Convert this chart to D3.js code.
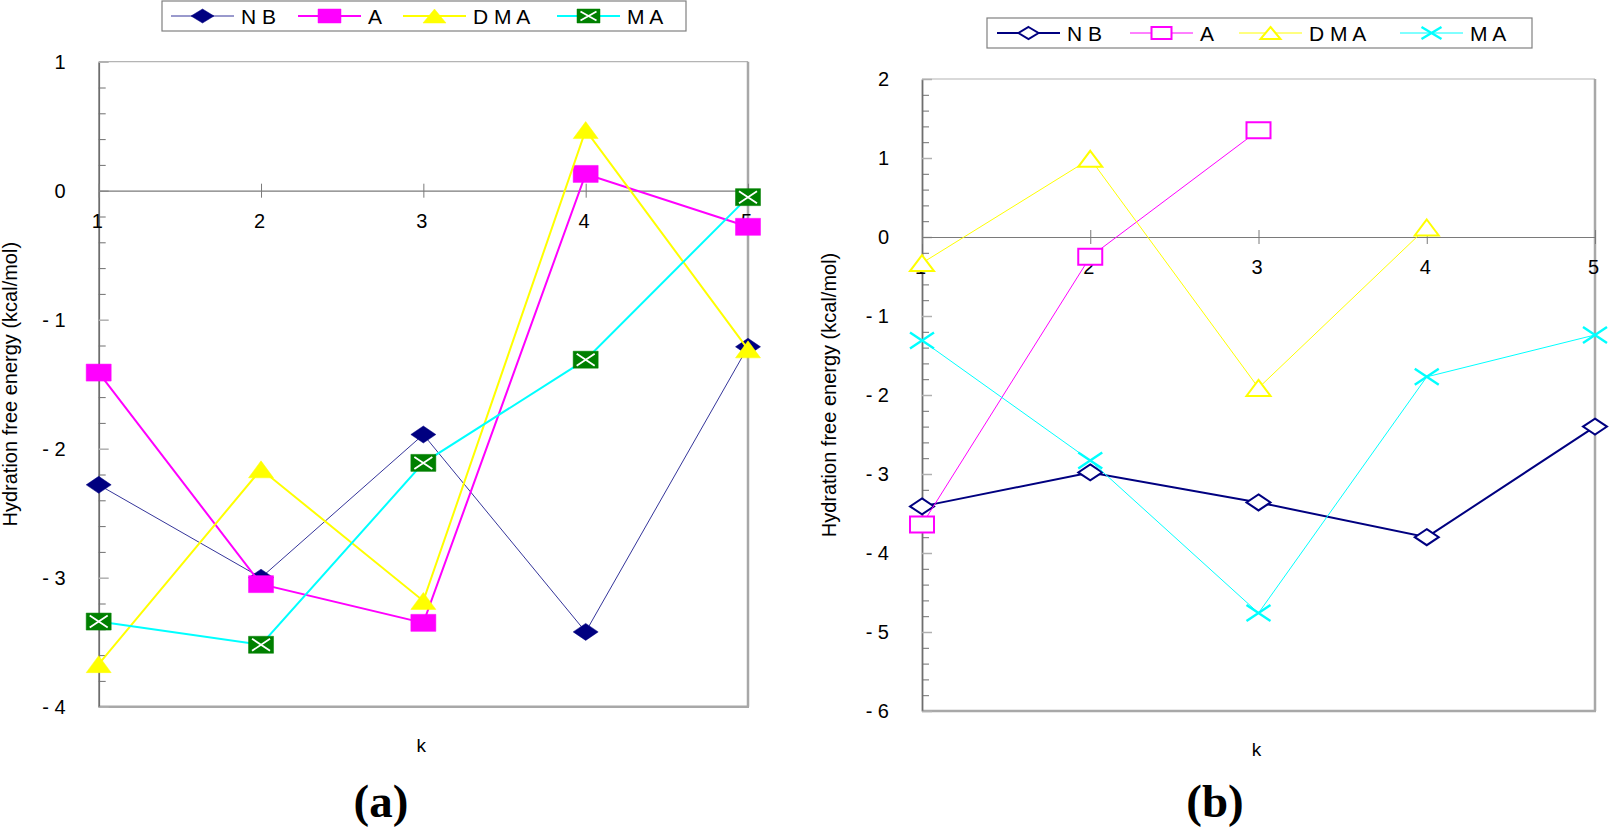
<!DOCTYPE html>
<html>
<head>
<meta charset="utf-8">
<script src="https://d3js.org/d3.v7.min.js"></script>
<style>
    body { margin: 0; background: #fff; }
    svg { display: block; }
    text { font-family: "Liberation Sans", Arial, sans-serif; fill: #000; }
    .panel-label { font-family: "Liberation Serif", "Times New Roman", serif; font-weight: bold; }
</style>
</head>
<body>
<script>
// x categories
const kValues = [1, 2, 3, 4, 5];
const seriesNames = ["N B", "A", "D M A", "M A"];

// panel (a) values, kcal/mol
const nbA = [-2.28, -3.00, -1.89, -3.42, -1.21];
const aA = [-1.41, -3.05, -3.35, 0.13, -0.28];
const dmaA = [-3.67, -2.16, -3.18, 0.47, -1.23];
const maA = [-3.34, -3.52, -2.11, -1.31, -0.05];

// panel (b) values, null = no point
const nbB = [-3.41, -2.98, -3.36, -3.80, -2.40];
const aB = [-3.64, -0.25, 1.35, null, null];
const dmaB = [-0.33, 0.99, -1.91, 0.12, null];
const maB = [-1.31, -2.83, -4.76, -1.77, -1.24];

const yTicksA = [-4, -3, -2, -1, 0, 1];
const yTicksB = [-6, -5, -4, -3, -2, -1, 0, 1, 2];
const panelLabels = ["(a)", "(b)"];
const yTitle = "Hydration free energy (kcal/mol)";
const xTitle = "k";

const W = 1609, H = 828;
const NAVY = "#000080", MAGENTA = "#ff00ff", YELLOW = "#ffff00", CYAN = "#00ffff", GREEN = "#008000";

const svg = d3.select("body").append("svg")
    .attr("width", W)
    .attr("height", H);

function markerPath(shape, w, h) {
    const p = d3.path();
    if (shape === "diamond") {
        p.moveTo(0, -h / 2); p.lineTo(w / 2, 0); p.lineTo(0, h / 2); p.lineTo(-w / 2, 0); p.closePath();
    } else if (shape === "square" || shape === "boxx") {
        p.rect(-w / 2, -h / 2, w, h);
    } else if (shape === "triangle") {
        p.moveTo(0, -h / 2); p.lineTo(w / 2, h / 2); p.lineTo(-w / 2, h / 2); p.closePath();
    } else if (shape === "x") {
        p.moveTo(-w / 2, -h / 2); p.lineTo(w / 2, h / 2);
        p.moveTo(w / 2, -h / 2); p.lineTo(-w / 2, h / 2);
    }
    return p.toString();
}

function drawMarker(g, s, w, h, filled) {
    if (filled) {
        g.append("path")
            .attr("d", markerPath(s.shape, w, h))
            .attr("fill", s.fill)
            .attr("stroke", s.fill)
            .attr("stroke-width", 0.5);
        if (s.shape === "boxx") {
            g.append("path")
                .attr("d", markerPath("x", w - 7, h - 5))
                .attr("stroke", "#fff")
                .attr("stroke-width", 1.8)
                .attr("fill", "none");
        }
    } else {
        g.append("path")
            .attr("d", markerPath(s.shape, w, h))
            .attr("fill", s.shape === "x" ? "none" : "#fff")
            .attr("stroke", s.color)
            .attr("stroke-width", s.shape === "x" ? 2.4 : 2);
    }
}

function drawPanel(cfg) {
    const g = svg.append("g");
    const x = d3.scaleLinear().domain([1, 5]).range(cfg.xRange);
    const y = d3.scaleLinear().domain(cfg.yDomain).range(cfg.yRange);
    const [x0, x1] = cfg.xRange;
    const [yb, yt] = cfg.yRange;

    // frame
    g.append("line").attr("x1", x0).attr("x2", x1).attr("y1", yt).attr("y2", yt)
        .attr("stroke", "#b4b4b4").attr("stroke-width", 1.2);
    g.append("line").attr("x1", x1).attr("x2", x1).attr("y1", yt).attr("y2", yb)
        .attr("stroke", "#a8a8a8").attr("stroke-width", 2.5);
    g.append("line").attr("x1", x0).attr("x2", x1 + 1).attr("y1", yb).attr("y2", yb)
        .attr("stroke", "#a8a8a8").attr("stroke-width", 2.5);

    // minor y ticks
    const minor = d3.range(cfg.yDomain[0], cfg.yDomain[1] + 0.001, 0.2)
        .filter(v => Math.abs(v - Math.round(v)) > 0.01);
    g.append("g")
        .attr("transform", `translate(${x0},0)`)
        .call(d3.axisLeft(y).tickValues(minor).tickSize(-7).tickFormat(""))
        .call(a => a.select(".domain").remove())
        .call(a => a.selectAll(".tick line").attr("stroke", "#707070").attr("stroke-width", 1));

    // major y ticks and labels
    g.append("g")
        .attr("transform", `translate(${x0},0)`)
        .call(d3.axisLeft(y).tickValues(cfg.yTicks).tickSize(-10).tickSizeOuter(0).tickPadding(33)
            .tickFormat(d => d < 0 ? "- " + (-d) : String(d)))
        .call(a => a.select(".domain").attr("stroke", "#6e6e6e").attr("stroke-width", 1.8))
        .call(a => a.selectAll(".tick line").attr("stroke", "#b0b0b0").attr("stroke-width", 1.5))
        .call(a => a.selectAll(".tick text").attr("font-size", 20).attr("font-family", "Liberation Sans, Arial"));

    // x axis on zero line
    g.append("g")
        .attr("transform", `translate(0,${y(0)})`)
        .call(d3.axisBottom(x).tickValues(kValues).tickSize(7).tickSizeOuter(0).tickFormat(d3.format("d")))
        .call(a => a.select(".domain").attr("stroke", "#7a7a7a").attr("stroke-width", 1.2))
        .call(a => a.selectAll(".tick line").attr("y1", -7).attr("stroke", "#7a7a7a").attr("stroke-width", 1))
        .call(a => a.selectAll(".tick text").attr("y", 23).attr("dy", "0.71em").attr("dx", -2)
            .attr("font-size", 20).attr("font-family", "Liberation Sans, Arial"));

    // series
    cfg.series.forEach(s => {
        const pts = kValues.map((k, i) => ({ k, v: s.values[i] })).filter(d => d.v !== null);
        const line = d3.line().x(d => x(d.k)).y(d => y(d.v));
        g.append("path")
            .datum(pts)
            .attr("d", line)
            .attr("fill", "none")
            .attr("stroke", s.color)
            .attr("stroke-width", s.width);
        pts.forEach(d => {
            const m = g.append("g").attr("transform", `translate(${x(d.k)},${y(d.v)})`);
            drawMarker(m, s, cfg.markerW, cfg.markerH, cfg.filled);
        });
    });

    // axis titles
    g.append("text")
        .attr("transform", `translate(${cfg.yTitleX},${(yt + yb) / 2}) rotate(-90)`)
        .attr("text-anchor", "middle")
        .attr("font-size", 20)
        .text(yTitle);
    g.append("text")
        .attr("x", (x0 + x1) / 2 - 2)
        .attr("y", yb + 45)
        .attr("text-anchor", "middle")
        .attr("font-size", 19)
        .text(xTitle);

    // panel label
    g.append("text")
        .attr("class", "panel-label")
        .attr("x", cfg.labelX)
        .attr("y", 817)
        .attr("text-anchor", "middle")
        .attr("font-size", 47)
        .text(cfg.label);

    // legend
    const L = cfg.legend;
    g.append("rect")
        .attr("x", L.x).attr("y", L.y).attr("width", L.w).attr("height", L.h)
        .attr("fill", "#fff").attr("stroke", "#808080").attr("stroke-width", 1.2);
    cfg.series.forEach((s, i) => {
        const lx = L.itemX[i];
        const cy = L.y + L.h / 2;
        g.append("line")
            .attr("x1", lx).attr("x2", lx + 63).attr("y1", cy).attr("y2", cy)
            .attr("stroke", s.color).attr("stroke-width", s.width);
        const m = g.append("g").attr("transform", `translate(${lx + 31.5},${cy})`);
        drawMarker(m, s, L.mw, L.mh, cfg.filled);
        g.append("text")
            .attr("x", lx + 70)
            .attr("y", cy)
            .attr("dy", "0.36em")
            .attr("font-size", 21)
            .text(seriesNames[i]);
    });
}

drawPanel({
    label: panelLabels[0],
    labelX: 381,
    xRange: [98.7, 748],
    yDomain: [-4, 1],
    yRange: [706.7, 61.7],
    yTicks: yTicksA,
    yTitleX: 17,
    filled: true,
    markerW: 25, markerH: 17,
    series: [
        { values: nbA, color: NAVY, fill: NAVY, width: 0.8, shape: "diamond" },
        { values: aA, color: MAGENTA, fill: MAGENTA, width: 2, shape: "square" },
        { values: dmaA, color: YELLOW, fill: YELLOW, width: 2, shape: "triangle" },
        { values: maA, color: CYAN, fill: GREEN, width: 2, shape: "boxx" }
    ],
    legend: { x: 162, y: 1, w: 524, h: 30, itemX: [171, 298, 403, 557], mw: 23, mh: 14 }
});

drawPanel({
    label: panelLabels[1],
    labelX: 1215,
    xRange: [922, 1595],
    yDomain: [-6, 2],
    yRange: [711, 79],
    yTicks: yTicksB,
    yTitleX: 836,
    filled: false,
    markerW: 24, markerH: 16,
    series: [
        { values: nbB, color: NAVY, width: 2, shape: "diamond" },
        { values: aB, color: MAGENTA, width: 1, shape: "square" },
        { values: dmaB, color: YELLOW, width: 1, shape: "triangle" },
        { values: maB, color: CYAN, width: 1, shape: "x" }
    ],
    legend: { x: 987, y: 18, w: 545, h: 30, itemX: [997, 1130, 1239, 1400], mw: 20, mh: 12 }
});
</script>
</body>
</html>
